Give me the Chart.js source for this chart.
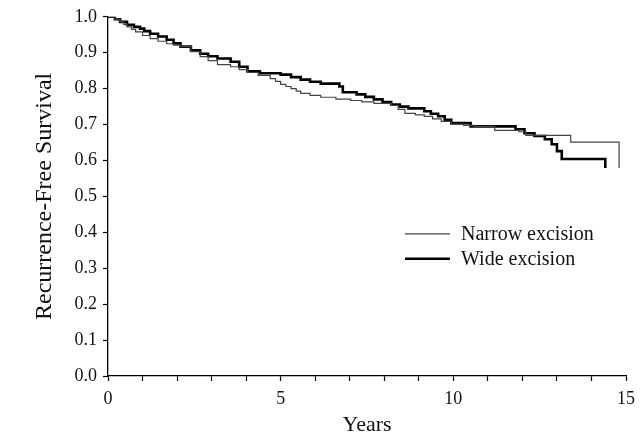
<!DOCTYPE html>
<html>
<head>
<meta charset="utf-8">
<script src="https://cdn.jsdelivr.net/npm/chart.js@4/dist/chart.umd.min.js"></script>
<style>
  html, body { margin: 0; padding: 0; background: #fff; }
  .wrap { width: 643px; height: 438px; position: relative; }
</style>
</head>
<body>
<div class="wrap"><canvas id="kmChart"></canvas></div>
<script>
// Kaplan-Meier curves, values
const narrowYears = [0, 0.2, 0.35, 0.45, 0.55, 0.68, 0.8, 1.0, 1.22, 1.45, 1.7, 1.9, 2.1, 2.4, 2.67, 2.9, 3.17, 3.55, 3.8, 4.04, 4.35, 4.7, 4.85, 5.0, 5.15, 5.3, 5.45, 5.58, 5.85, 6.16, 6.6, 7.03, 7.35, 7.7, 8.2, 8.4, 8.6, 8.9, 9.16, 9.4, 9.65, 9.94, 10.3, 10.6, 11.2, 11.9, 12.1, 13.4, 14.8];
const narrowSurv  = [1.0, 0.993, 0.986, 0.979, 0.972, 0.965, 0.958, 0.948, 0.939, 0.932, 0.925, 0.921, 0.917, 0.903, 0.889, 0.878, 0.867, 0.861, 0.853, 0.845, 0.837, 0.828, 0.82, 0.812, 0.806, 0.8, 0.793, 0.787, 0.781, 0.776, 0.771, 0.767, 0.763, 0.759, 0.753, 0.742, 0.731, 0.727, 0.723, 0.716, 0.709, 0.701, 0.698, 0.695, 0.684, 0.68, 0.67, 0.651, 0.579];

const wideYears = [0, 0.2, 0.35, 0.55, 0.75, 0.93, 1.05, 1.22, 1.45, 1.7, 1.9, 2.1, 2.4, 2.67, 2.9, 3.17, 3.55, 3.8, 4.04, 4.4, 5.0, 5.3, 5.58, 5.85, 6.16, 6.7, 6.8, 7.2, 7.45, 7.7, 7.95, 8.2, 8.45, 8.7, 9.16, 9.35, 9.56, 9.75, 9.94, 10.5, 11.8, 12.06, 12.35, 12.65, 12.85, 13.0, 13.14, 14.4];
const wideSurv  = [1.0, 0.993, 0.986, 0.978, 0.972, 0.967, 0.96, 0.953, 0.945, 0.936, 0.926, 0.917, 0.907, 0.897, 0.89, 0.884, 0.875, 0.861, 0.848, 0.843, 0.839, 0.832, 0.825, 0.819, 0.814, 0.806, 0.79, 0.784, 0.777, 0.77, 0.763, 0.756, 0.75, 0.745, 0.737, 0.73, 0.723, 0.713, 0.704, 0.695, 0.687, 0.676, 0.668, 0.659, 0.645, 0.626, 0.604, 0.579];

const seriesNames = ['Narrow excision', 'Wide excision'];
const xTicks = [0, 5, 10, 15];
const yMin = 0, yMax = 1, yStep = 0.1;

const serif = '"Liberation Serif", "Times New Roman", serif';

function toPoints(xs, ys) {
    return xs.map((x, i) => ({ x: x, y: ys[i] }));
}

// legend drawn inside the plot, like the original figure
const insideLegend = {
    id: 'insideLegend',
    afterDraw(chart) {
        const ctx = chart.ctx;
        const area = chart.chartArea;
        const x0 = area.left + 297;
        const y0 = area.top + 217;
        ctx.save();
        ctx.font = '20px ' + serif;
        ctx.textBaseline = 'middle';
        chart.data.datasets.forEach((ds, i) => {
            const y = y0 + i * 25;
            ctx.strokeStyle = ds.borderColor;
            ctx.lineWidth = ds.borderWidth;
            ctx.beginPath();
            ctx.moveTo(x0, y);
            ctx.lineTo(x0 + 45, y);
            ctx.stroke();
            ctx.fillStyle = '#111';
            ctx.fillText(ds.label, x0 + 56, y + 1);
        });
        ctx.restore();
    }
};

const ctx = document.getElementById('kmChart').getContext('2d');
new Chart(ctx, {
    type: 'line',
    data: {
        datasets: [{
            label: seriesNames[0],
            data: toPoints(narrowYears, narrowSurv),
            borderColor: '#444',
            borderWidth: 1.2,
            stepped: 'before',
            pointRadius: 0,
            fill: false
        }, {
            label: seriesNames[1],
            data: toPoints(wideYears, wideSurv),
            borderColor: '#000',
            borderWidth: 2.6,
            stepped: 'before',
            pointRadius: 0,
            fill: false
        }]
    },
    options: {
        responsive: true,
        maintainAspectRatio: false,
        animation: false,
        layout: { padding: { top: 15, right: 17, bottom: 0, left: 0 } },
        plugins: {
            legend: { display: false },
            tooltip: { enabled: false }
        },
        scales: {
            x: {
                type: 'linear',
                min: 0,
                max: 15,
                afterFit: (scale) => { scale.height = 62; },
                border: { color: '#000', width: 1.3 },
                grid: { drawOnChartArea: false, color: '#000', tickLength: 5, tickWidth: 1.2 },
                ticks: {
                    stepSize: 1,
                    padding: 7,
                    color: '#111',
                    font: { family: serif, size: 18 },
                    callback: (v) => xTicks.includes(v) ? String(v) : ''
                },
                title: {
                    display: true,
                    text: 'Years',
                    color: '#111',
                    font: { family: serif, size: 22 },
                    padding: 0
                }
            },
            y: {
                min: yMin,
                max: yMax,
                afterFit: (scale) => { scale.width = 108; },
                border: { color: '#000', width: 1.3 },
                grid: { drawOnChartArea: false, color: '#000', tickLength: 5, tickWidth: 1.2 },
                ticks: {
                    stepSize: yStep,
                    padding: 6,
                    color: '#111',
                    font: { family: serif, size: 18 },
                    callback: (v) => v.toFixed(1)
                },
                title: {
                    display: true,
                    text: 'Recurrence-Free Survival',
                    color: '#111',
                    font: { family: serif, size: 24 },
                    padding: { top: 30, bottom: 0 }
                }
            }
        }
    },
    plugins: [insideLegend]
});
</script>
</body>
</html>
